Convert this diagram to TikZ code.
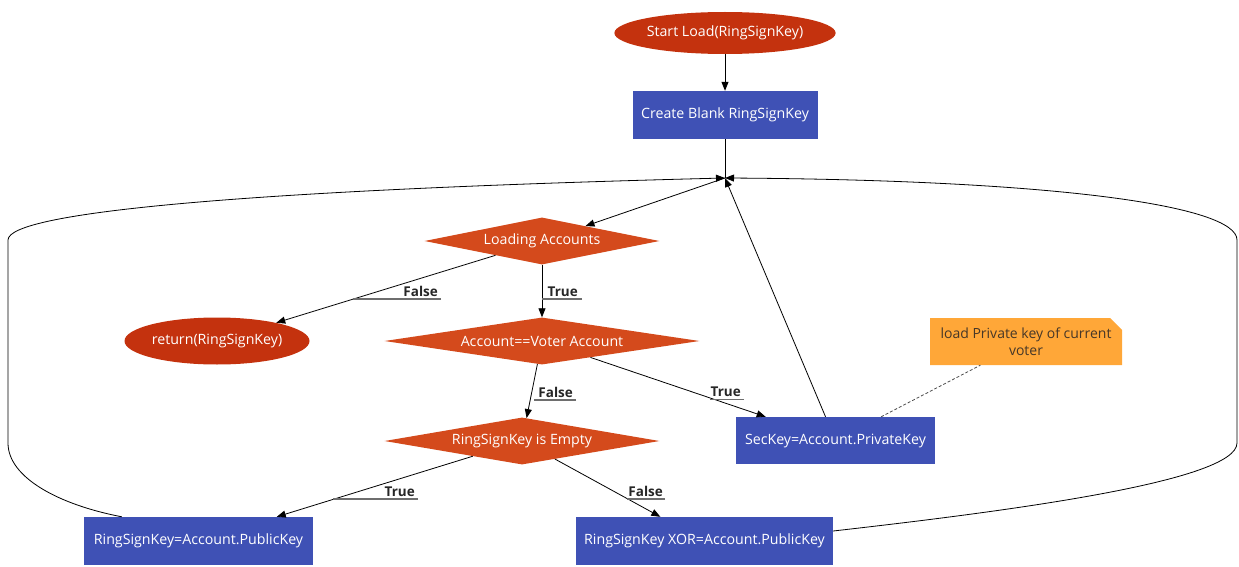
\documentclass[tikz,border=0pt]{standalone}
\usepackage{fontspec}
\setmainfont{Open Sans}
\usetikzlibrary{shapes.geometric,shapes.misc,arrows.meta,calc}

\definecolor{termred}{RGB}{196,50,14}
\definecolor{decred}{RGB}{212,74,28}
\definecolor{stepblue}{RGB}{63,81,181}
\definecolor{noteorange}{RGB}{255,167,56}
\definecolor{notetext}{RGB}{70,55,40}
\definecolor{ulgray}{RGB}{110,110,110}

\begin{document}
\begin{tikzpicture}[x=1pt,y=-1pt,
  base/.style={inner sep=0pt, font=\fontsize{14.2}{16}\selectfont, text=white},
  terminal/.style={base, ellipse, fill=termred},
  decision/.style={base, diamond, shape aspect=6, fill=decred},
  stepbox/.style={base, rectangle, fill=stepblue},
  notebox/.style={base, chamfered rectangle, chamfered rectangle corners=north east,
    chamfered rectangle xsep=6pt, chamfered rectangle ysep=6pt,
    fill=noteorange, text=notetext, align=center, font=\fontsize{14}{17}\selectfont},
  arr/.style={draw=black, line width=0.8pt, -{Triangle[length=9pt,width=7pt]}},
  plain/.style={draw=black, line width=0.8pt},
  elabel/.style={inner sep=0pt, font=\bfseries\fontsize{13.5}{15}\selectfont, text=black!85},
  uline/.style={draw=ulgray, line width=1.1pt}
]
\useasboundingbox (0,0) rectangle (1239,567);

% nodes
\node[terminal, minimum width=212, minimum height=42] (start) at (725,33) {Start Load(RingSignKey)};
\node[stepbox, minimum width=185, minimum height=48] (create) at (725,115) {Create Blank RingSignKey};
\coordinate (jn) at (725,178);
\node[decision, minimum width=235, minimum height=47] (loading) at (542,241) {Loading Accounts};
\node[terminal, minimum width=185, minimum height=47] (ret) at (217,341) {return(RingSignKey)};
\node[decision, minimum width=315, minimum height=47] (voter) at (542,341) {Account==Voter Account};
\node[decision, minimum width=275, minimum height=47] (empty) at (522,441) {RingSignKey is Empty};
\node[stepbox, minimum width=199, minimum height=47] (sec) at (835.5,440.5) {SecKey=Account.PrivateKey};
\node[notebox, minimum width=192, minimum height=47] (note) at (1026,341.5) {load Private key of current\\voter};
\node[stepbox, minimum width=229, minimum height=48] (pub) at (198.5,541) {RingSignKey=Account.PublicKey};
\node[stepbox, minimum width=257, minimum height=48] (xor) at (704.5,541) {RingSignKey XOR=Account.PublicKey};

% straight connectors
\draw[arr] (start) -- (create);
\draw[plain] (create) -- (jn);
\draw[arr] (jn) -- (loading);
\draw[arr] (loading) -- (ret);
\draw[arr] (loading) -- (voter);
\draw[arr] (voter) -- (empty);
\draw[arr] (voter) -- (sec);
\draw[arr] (empty) -- (pub);
\draw[arr] (empty) -- (xor);
\draw[arr] (sec) -- (jn);
\draw[draw=black!70, line width=0.8pt, dash pattern=on 3pt off 2pt] (sec) -- (note);

% loop-back connectors
\coordinate (pubout) at ($(pub.north west)+(38,0)$);
\draw[arr] (pubout) .. controls (60,505) and (8,478) .. (8,443)
  -- (8,240) .. controls (8,212) and (250,190) .. (jn);
\coordinate (xorout) at ($(xor.east)+(0,-10)$);
\draw[arr] (xorout) .. controls (1000,512) and (1237,482) .. (1237,443)
  -- (1237,240) .. controls (1237,205) and (1050,180) .. (jn);

% branch labels
\node[elabel, anchor=south east] (f1) at (438,296.5) {False};
\draw[uline] ($(f1.south east)+(3,2.5)$) -- (353,299);
\node[elabel, anchor=south east] (t1) at (578,296.5) {True};
\draw[uline] ($(t1.south east)+(4,2.5)$) -- (542,299);
\node[elabel, anchor=south east] (f2) at (573,397.5) {False};
\draw[uline] ($(f2.south east)+(3,2.5)$) -- (534,400);
\node[elabel, anchor=south east] (t2) at (741,397) {True};
\draw[uline] ($(t2.south east)+(3,2.5)$) -- (710,399.5);
\node[elabel, anchor=south east] (t3) at (415,496.5) {True};
\draw[uline] ($(t3.south east)+(3,2.5)$) -- (333,499);
\node[elabel, anchor=south east] (f3) at (663,496.5) {False};
\draw[uline] ($(f3.south east)+(2,2.5)$) -- (627,499);
\end{tikzpicture}
\end{document}
